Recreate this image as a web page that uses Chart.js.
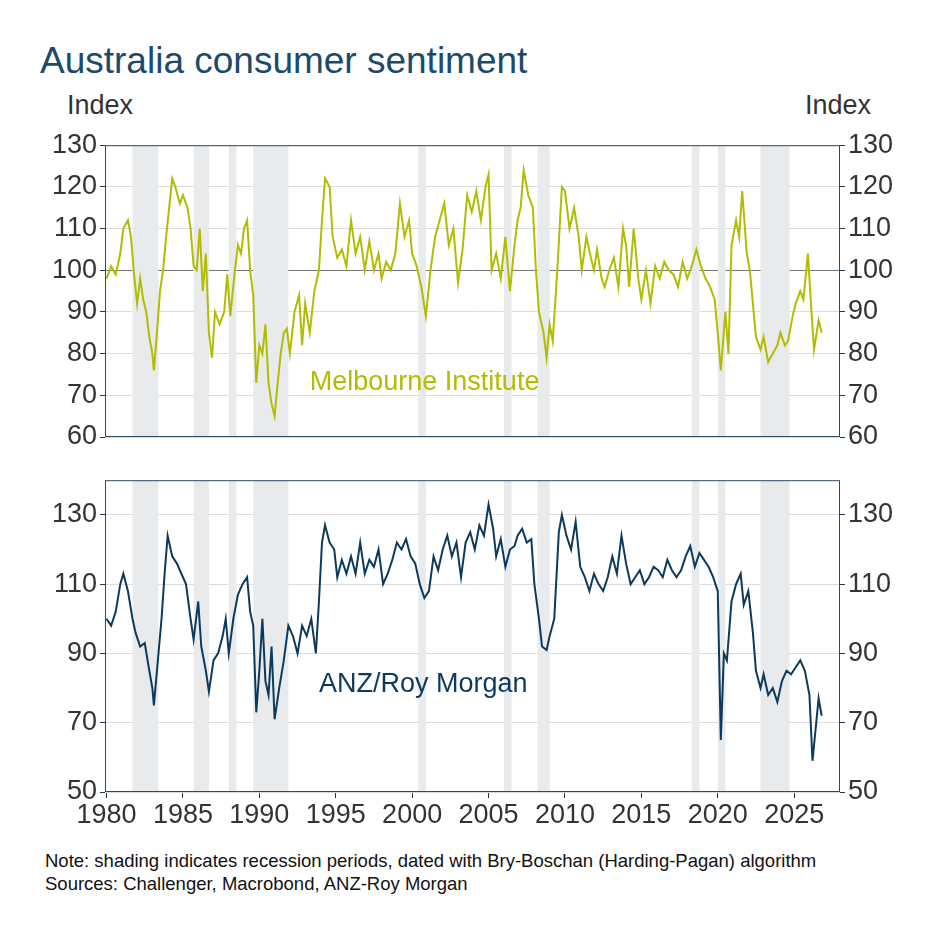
<!DOCTYPE html>
<html>
<head>
<meta charset="utf-8">
<script src="https://cdn.jsdelivr.net/npm/chart.js@4"></script>
<style>
  body { margin:0; width:943px; height:943px; background:#fff; font-family:"Liberation Sans", Arial, sans-serif; position:relative; overflow:hidden; }
  .t { position:absolute; white-space:nowrap; }
  .box { position:absolute; left:0; width:943px; }
</style>
</head>
<body>
<div class="t" style="left:40px;top:40px;font-size:37px;color:#1b4a6b;">Australia consumer sentiment</div>
<div class="t" style="left:67px;top:90px;font-size:27px;color:#333;">Index</div>
<div class="t" style="left:805px;top:90px;font-size:27px;color:#333;">Index</div>
<div class="box" style="top:126px;height:368px;"><canvas id="top"></canvas></div>
<div class="box" style="top:461px;height:376px;"><canvas id="bottom"></canvas></div>
<div class="t" style="left:45px;top:850px;font-size:18.5px;color:#111;">Note: shading indicates recession periods, dated with Bry-Boschan (Harding-Pagan) algorithm</div>
<div class="t" style="left:45px;top:873px;font-size:18.5px;color:#111;">Sources: Challenger, Macrobond, ANZ-Roy Morgan</div>
<script>
// recession periods [start, end]
const recessions = [[1981.7,1983.4],[1985.7,1986.7],[1988.0,1988.5],[1989.6,1991.9],[2000.4,2000.9],[2006.0,2006.5],[2008.2,2009.0],[2018.3,2018.8],[2020.0,2020.5],[2022.8,2024.7]];

const miDates = [1980.0,1980.3,1980.6,1980.9,1981.1,1981.4,1981.6,1981.8,1982.0,1982.2,1982.4,1982.6,1982.8,1983.0,1983.1,1983.3,1983.5,1983.7,1983.9,1984.1,1984.3,1984.5,1984.8,1985.0,1985.3,1985.5,1985.7,1985.9,1986.1,1986.3,1986.5,1986.7,1986.9,1987.1,1987.4,1987.7,1987.9,1988.1,1988.4,1988.6,1988.8,1989.0,1989.2,1989.4,1989.6,1989.8,1990.0,1990.2,1990.4,1990.6,1990.8,1991.0,1991.2,1991.4,1991.6,1991.8,1992.0,1992.3,1992.6,1992.8,1993.0,1993.3,1993.6,1993.9,1994.1,1994.3,1994.6,1994.8,1995.1,1995.4,1995.7,1996.0,1996.3,1996.6,1996.9,1997.2,1997.5,1997.8,1998.0,1998.3,1998.6,1998.9,1999.2,1999.5,1999.8,2000.0,2000.3,2000.6,2000.9,2001.2,2001.5,2001.8,2002.1,2002.4,2002.7,2003.0,2003.3,2003.6,2003.9,2004.2,2004.5,2004.8,2005.0,2005.2,2005.5,2005.8,2006.1,2006.4,2006.7,2006.9,2007.1,2007.3,2007.6,2007.9,2008.1,2008.3,2008.6,2008.8,2009.0,2009.2,2009.5,2009.8,2010.0,2010.3,2010.6,2010.9,2011.1,2011.4,2011.7,2011.9,2012.1,2012.4,2012.6,2012.9,2013.2,2013.5,2013.8,2014.0,2014.2,2014.5,2014.8,2015.0,2015.3,2015.6,2015.9,2016.2,2016.5,2016.8,2017.1,2017.4,2017.7,2018.0,2018.3,2018.6,2018.9,2019.2,2019.5,2019.8,2020.0,2020.2,2020.5,2020.7,2020.9,2021.2,2021.4,2021.6,2021.9,2022.1,2022.3,2022.5,2022.8,2023.0,2023.3,2023.6,2023.9,2024.1,2024.4,2024.6,2024.9,2025.1,2025.4,2025.6,2025.9,2026.1,2026.3,2026.6,2026.8];
const miValues = [98,101,99,104,110,112,108,99,92,98,93,90,84,80,76,85,95,100,108,115,122,120,116,118,115,110,101,100,110,95,104,85,79,90,87,90,99,89,100,106,104,110,112,100,94,73,82,80,87,73,68,65,73,80,85,86,80,90,94,82,92,85,95,100,112,122,120,108,103,105,101,112,104,108,100,107,100,104,98,102,100,104,116,108,112,104,101,96,89,100,108,112,116,106,110,97,105,118,114,119,112,120,123,100,104,98,108,95,106,112,115,124,118,115,100,90,85,79,87,83,100,120,119,110,115,108,100,108,103,100,105,98,96,100,103,96,110,106,96,110,98,93,100,92,101,98,102,100,99,96,102,98,101,105,101,98,96,93,85,76,90,80,106,112,108,119,104,100,92,84,81,84,78,80,82,85,82,83,89,92,95,93,104,92,81,88,85];

const anzDates = [1980.0,1980.3,1980.6,1980.9,1981.1,1981.4,1981.7,1981.9,1982.2,1982.5,1982.8,1983.0,1983.1,1983.3,1983.6,1983.8,1984.0,1984.3,1984.6,1984.9,1985.2,1985.5,1985.7,1986.0,1986.2,1986.5,1986.7,1987.0,1987.3,1987.6,1987.8,1988.0,1988.3,1988.6,1988.9,1989.2,1989.4,1989.6,1989.8,1990.0,1990.2,1990.4,1990.6,1990.8,1991.0,1991.3,1991.6,1991.9,1992.2,1992.5,1992.8,1993.1,1993.4,1993.7,1993.9,1994.1,1994.3,1994.6,1994.9,1995.1,1995.4,1995.7,1996.0,1996.3,1996.6,1996.9,1997.2,1997.5,1997.8,1998.1,1998.4,1998.7,1999.0,1999.3,1999.6,1999.9,2000.2,2000.5,2000.8,2001.1,2001.4,2001.7,2002.0,2002.3,2002.6,2002.9,2003.2,2003.5,2003.8,2004.1,2004.4,2004.7,2005.0,2005.3,2005.5,2005.8,2006.1,2006.4,2006.7,2006.9,2007.2,2007.5,2007.8,2008.0,2008.3,2008.5,2008.8,2009.0,2009.3,2009.6,2009.8,2010.1,2010.4,2010.7,2011.0,2011.3,2011.6,2011.9,2012.2,2012.5,2012.8,2013.1,2013.4,2013.7,2014.0,2014.3,2014.6,2014.9,2015.2,2015.5,2015.8,2016.1,2016.4,2016.7,2017.0,2017.3,2017.6,2017.9,2018.2,2018.5,2018.8,2019.1,2019.4,2019.7,2020.0,2020.2,2020.4,2020.6,2020.9,2021.2,2021.5,2021.7,2022.0,2022.3,2022.5,2022.8,2023.0,2023.3,2023.6,2023.9,2024.2,2024.5,2024.8,2025.1,2025.4,2025.7,2026.0,2026.2,2026.4,2026.6,2026.8];
const anzValues = [100,98,102,110,113,108,100,96,92,93,85,80,75,85,100,113,124,118,116,113,110,100,94,105,92,85,79,88,90,95,100,90,100,107,110,112,102,98,73,85,100,82,78,92,71,80,88,98,95,90,98,95,100,90,105,122,127,122,120,112,117,113,118,113,122,113,117,115,120,110,113,117,122,120,123,118,116,110,106,108,118,114,120,124,118,122,112,122,125,120,127,124,133,126,118,123,115,120,121,124,126,122,123,110,100,92,91,95,100,125,130,124,120,128,115,112,108,113,110,108,112,118,113,124,116,110,112,114,110,112,115,114,112,117,114,112,114,118,121,115,119,117,115,112,108,65,90,88,105,110,113,104,108,96,85,80,84,78,80,76,82,85,84,86,88,85,78,59,68,77,72];

const xTicks = [1980,1985,1990,1995,2000,2005,2010,2015,2020,2025];
const topTicks = [60,70,80,90,100,110,120,130];
const bottomTicks = [50,60,70,80,90,100,110,120,130,140];

const FONT = { family: '"Liberation Sans", Arial, sans-serif', size: 27 };

function decor(label, labelX, labelY, labelColor, borderColor) {
  return {
    id: 'decor',
    beforeDatasetsDraw(chart) {
      const { ctx, chartArea: a, scales: { x } } = chart;
      ctx.save();
      ctx.fillStyle = '#e8eaec';
      recessions.forEach(([s, e]) => {
        const x0 = x.getPixelForValue(s), x1 = x.getPixelForValue(e);
        ctx.fillRect(x0, a.top, x1 - x0, a.bottom - a.top);
      });
      ctx.restore();
    },
    afterDraw(chart) {
      const { ctx, chartArea: a, scales: { x, y } } = chart;
      ctx.save();
      ctx.strokeStyle = borderColor;
      ctx.lineWidth = 1;
      ctx.strokeRect(a.left + 0.5, a.top + 0.5, a.right - a.left - 1, a.bottom - a.top - 1);
      ctx.fillStyle = labelColor;
      ctx.font = '27px "Liberation Sans", Arial, sans-serif';
      ctx.textBaseline = 'middle';
      ctx.fillText(label, x.getPixelForValue(labelX), y.getPixelForValue(labelY));
      ctx.restore();
    }
  };
}

function yAxis(ticks, position) {
  return {
    position, min: ticks[0], max: ticks[ticks.length - 1],
    afterBuildTicks: s => { s.ticks = ticks.map(v => ({ value: v })); },
    afterFit: s => { s.width = position === 'left' ? 105 : 103; },
    border: { display: false },
    grid: {
      drawTicks: true, tickLength: 5,
      color: c => position === 'left' ? (c.tick && c.tick.value === 100 ? '#777' : '#dcdcdc') : 'rgba(0,0,0,0)',
      tickColor: '#1b3a5a'
    },
    ticks: { color: '#333', font: FONT, padding: 3 }
  };
}

function makeChart(id, dates, values, color, ticks, showX, label, lx, ly, borderColor) {
  return new Chart(document.getElementById(id), {
    type: 'line',
    data: {
      datasets: [{
        data: dates.map((d, i) => ({ x: d, y: values[i] })),
        borderColor: color, borderWidth: 2, pointRadius: 0, tension: 0
      }]
    },
    options: {
      animation: false, responsive: true, maintainAspectRatio: false,
      layout: { padding: { top: 12, bottom: showX ? 0 : 12, left: 0, right: 0 } },
      plugins: { legend: { display: false }, tooltip: { enabled: false } },
      scales: {
        x: {
          type: 'linear', min: 1979.9, max: 2028,
          display: showX,
          afterBuildTicks: s => { s.ticks = xTicks.map(v => ({ value: v })); },
          afterFit: s => { s.height = 45; },
          border: { display: false },
          grid: { drawOnChartArea: false, tickLength: 6, tickColor: '#1b3a5a' },
          ticks: { color: '#333', font: FONT, padding: 1, callback: v => String(v), maxRotation: 0 }
        },
        y: yAxis(ticks, 'left'),
        y2: yAxis(ticks, 'right')
      }
    },
    plugins: [decor(label, lx, ly, color, borderColor)]
  });
}

makeChart('top', miDates, miValues, '#b2bc00', topTicks, false, 'Melbourne Institute', 1993.3, 73, '#2b4a66');
makeChart('bottom', anzDates, anzValues, '#0d3a5c', bottomTicks, true, 'ANZ/Roy Morgan', 1993.9, 81, '#2b4a66');
</script>
</body>
</html>
